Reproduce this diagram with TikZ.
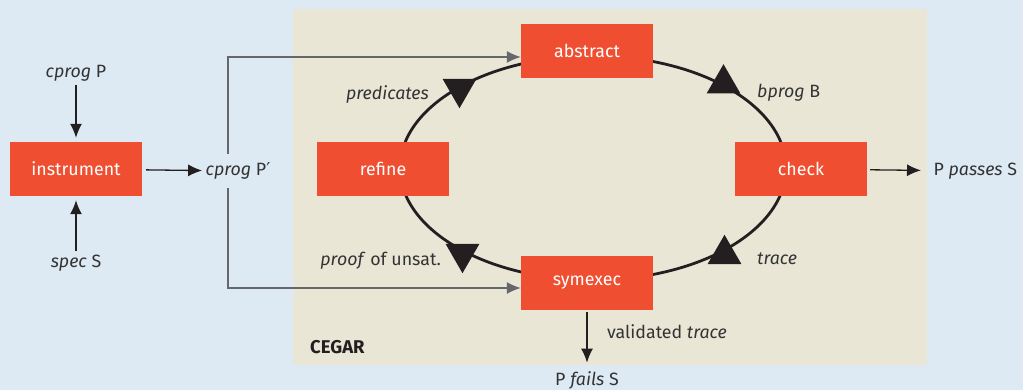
\documentclass[tikz,border=0pt]{standalone}
\usepackage{fontspec}
\setmainfont{Fira Sans}
\newfontfamily\primefont{DejaVu Sans}
\usetikzlibrary{positioning,arrows.meta,shapes.geometric}

\definecolor{skyback}{HTML}{DDEAF3}
\definecolor{panelback}{HTML}{E9E6D6}
\definecolor{boxred}{HTML}{EF4E31}
\definecolor{inkdark}{HTML}{231F20}
\definecolor{wiregray}{HTML}{66676A}
\definecolor{labelgray}{HTML}{333334}

\tikzset{
  block/.style={fill=boxred, text=white, minimum width=132, minimum height=54, inner sep=0},
  lbl/.style={text=labelgray, inner sep=0},
  flow/.style={draw=inkdark, line width=1.3, -{Latex[length=14pt,width=12pt]}},
  feed/.style={draw=wiregray, line width=1.3, -{Latex[length=14pt,width=12pt]}},
  loopline/.style={draw=inkdark, line width=2.8},
  tipup/.style={regular polygon, regular polygon sides=3, minimum size=39, inner sep=0, fill=inkdark},
  tipdown/.style={tipup, shape border rotate=180}
}

\begin{document}
\begin{tikzpicture}[x=1pt, y=-1pt, font=\fontsize{17.8}{21}\selectfont]
% Background and panel
\fill[skyback] (0,0) rectangle (1023,390);
\fill[panelback] (293,9) rectangle (927,365);
\useasboundingbox (0,0) rectangle (1023,390);

% CEGAR loop
\coordinate (hub) at (593,168);
\draw[loopline] (hub) ellipse [x radius=193, y radius=112];
\node[tipdown] (predtip) at (459.5,88.7) {};
\node[tipup] (bprogtip) at (723.5,83.7) {};
\node[tipup] (tracetip) at (724.5,254.3) {};
\node[tipdown] (prooftip) at (462.5,253.7) {};

% Blocks
\node[block] (instrument) at (76,169) {instrument};
\node[block] (abstract) at (587,51) {abstract};
\node[block] (refine) at (383,169) {refine};
\node[block] (check) at (801,169) {check};
\node[block] (symexec) at (587,283) {symexec};

% Inputs
\node[text=labelgray] (cprog) at (76,73) {\textit{cprog} P};
\node[text=labelgray] (spec) at (76,263) {\textit{spec} S};
\node[text=labelgray, minimum height=34] (cprogi) at (238,171) {\textit{cprog} P{\primefont ′}};
\draw[flow, shorten >=4] (cprog) -- (instrument);
\draw[flow, shorten >=4] (spec) -- (instrument);
\draw[flow, shorten <=4] (instrument) -- (cprogi);

% Feed into the loop
\coordinate (fork) at (228,171);
\draw[feed] (cprogi.north -| fork) |- ([yshift=-6pt]abstract.west);
\draw[feed] (cprogi.south -| fork) |- ([yshift=-5pt]symexec.west);

% Loop labels
\node[lbl, anchor=east] (predicates) at (429,94) {\textit{predicates}};
\node[lbl, anchor=west] (bprog) at (757,93) {\textit{bprog} B};
\node[lbl, anchor=west] (tracelbl) at (757,259) {\textit{trace}};
\node[lbl, anchor=east] (proof) at (441,261) {\textit{proof} of unsat.};

% Outcomes
\node[text=labelgray, anchor=west] (passes) at (930,171) {P \textit{passes} S};
\draw[flow, shorten <=3, shorten >=9] (check) -- (passes);
\node[text=labelgray] (fails) at (587,380) {P \textit{fails} S};
\draw[flow, shorten <=2, shorten >=5] (symexec) -- (fails);
\node[lbl, anchor=west] (validated) at (607,332) {validated \textit{trace}};
\node[text=inkdark, anchor=west, inner sep=0, font=\fontsize{18.5}{21}\selectfont\bfseries] (cegar) at (310,347) {CEGAR};
\end{tikzpicture}
\end{document}
